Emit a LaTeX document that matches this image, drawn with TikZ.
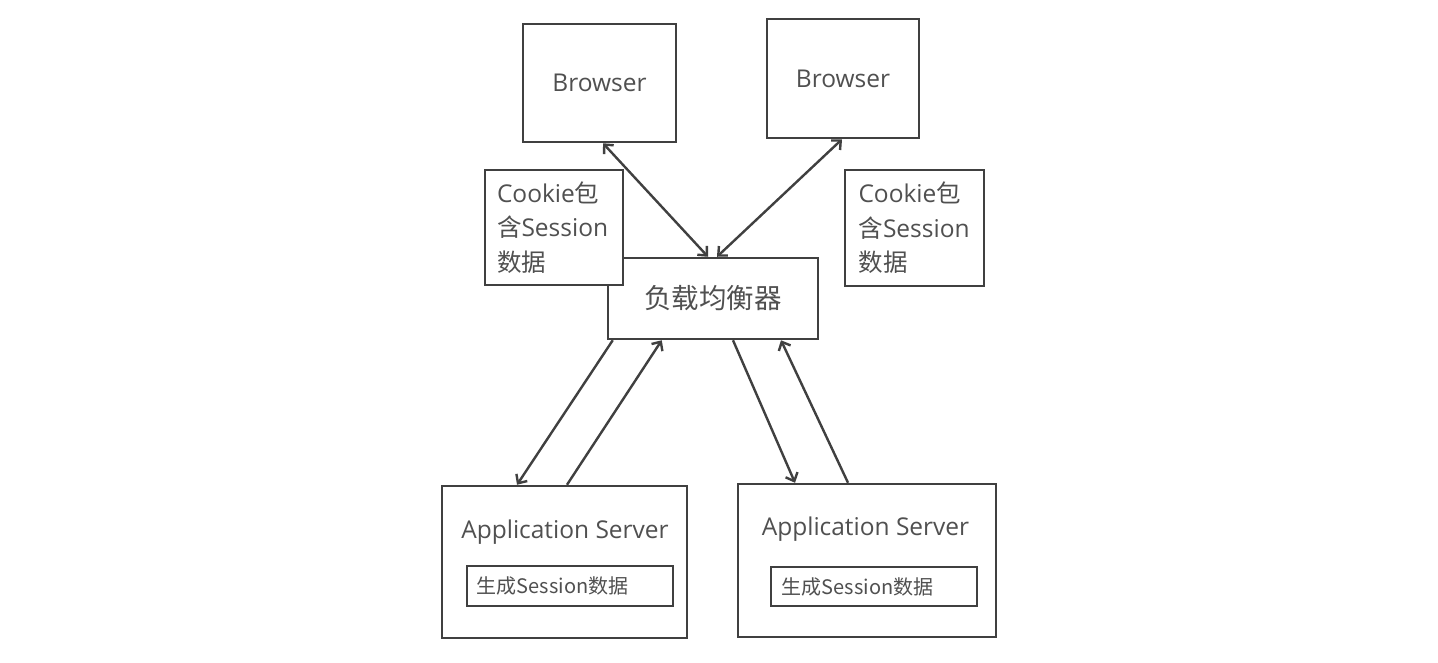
\documentclass[tikz,border=0pt]{standalone}
\usepackage{fontspec}
\setmainfont{Open Sans}
\newfontfamily\cjk{Noto Sans CJK SC}
\usetikzlibrary{arrows.meta}
\definecolor{linec}{HTML}{404040}
\definecolor{textc}{HTML}{505050}
\begin{document}
\begin{tikzpicture}[x=1pt,y=-1pt,
  box/.style={draw=linec, line width=2.5pt, rectangle, inner sep=0pt, text=textc},
  lbl/.style={text=textc, inner sep=0pt},
  conn/.style={draw=linec, line width=2.4pt, -{Straight Barb[length=7pt,width=13pt,line width=2.4pt]}},
  dconn/.style={draw=linec, line width=2.4pt, {Straight Barb[length=7pt,width=13pt,line width=2.4pt]}-{Straight Barb[length=7pt,width=13pt,line width=2.4pt]}},
  big/.style={font=\fontsize{24.5}{34.5}\selectfont},
]
\useasboundingbox (0,0) rectangle (1438,662);
\fill[white] (0,0) rectangle (1438,662);

\node[box, big, minimum width=153pt, minimum height=118pt] (b1) at (599.5,83) {Browser};
\node[box, big, minimum width=152pt, minimum height=119pt] (b2) at (843,78.5) {Browser};

\node[box, font=\cjk\fontsize{27.5}{30}\selectfont, minimum width=210pt, minimum height=81pt] (lb) at (713,298.5) {负载均衡器};

\node[box, fill=white, big, minimum width=138pt, minimum height=115pt, text width=114pt, align=left] (c1) at (554,227.5)
  {Cookie{\cjk 包}\\{\cjk 含}Session\\{\cjk 数据}};
\node[box, fill=white, big, minimum width=139pt, minimum height=116pt, text width=112pt, align=left] (c2) at (914.5,228)
  {Cookie{\cjk 包}\\{\cjk 含}Session\\{\cjk 数据}};

\node[box, minimum width=245pt, minimum height=152pt] (as1) at (564.5,562) {};
\node[box, minimum width=258pt, minimum height=153pt] (as2) at (867,560.5) {};

\node[lbl, big, anchor=base] (t1) at (565,538) {Application Server};
\node[lbl, big, anchor=base] (t2) at (865.5,535) {Application Server};

\node[box, minimum width=206pt, minimum height=40pt] (i1) at (570,586) {};
\node[box, minimum width=206pt, minimum height=39pt] (i2) at (874,586.5) {};
\node[lbl, anchor=west, font=\cjk\fontsize{20}{22}\selectfont] (it1) at ([xshift=11pt]i1.west) {生成Session数据};
\node[lbl, anchor=west, font=\cjk\fontsize{20}{22}\selectfont] (it2) at ([xshift=12pt]i2.west) {生成Session数据};

\draw[dconn] ([xshift=3.5pt]b1.south) -- ([xshift=-5pt]lb.north);
\draw[dconn] ([xshift=-1pt]b2.south) -- ([xshift=4pt]lb.north);
\draw[conn] ([xshift=6pt]lb.south west) -- ([xshift=-47.5pt]as1.north);
\draw[conn] ([xshift=2.5pt]as1.north) -- ([xshift=55pt]lb.south west);
\draw[conn] ([xshift=20pt]lb.south) -- ([xshift=-72pt]as2.north);
\draw[conn] ([xshift=-19pt]as2.north) -- ([xshift=68pt]lb.south);
\end{tikzpicture}
\end{document}
